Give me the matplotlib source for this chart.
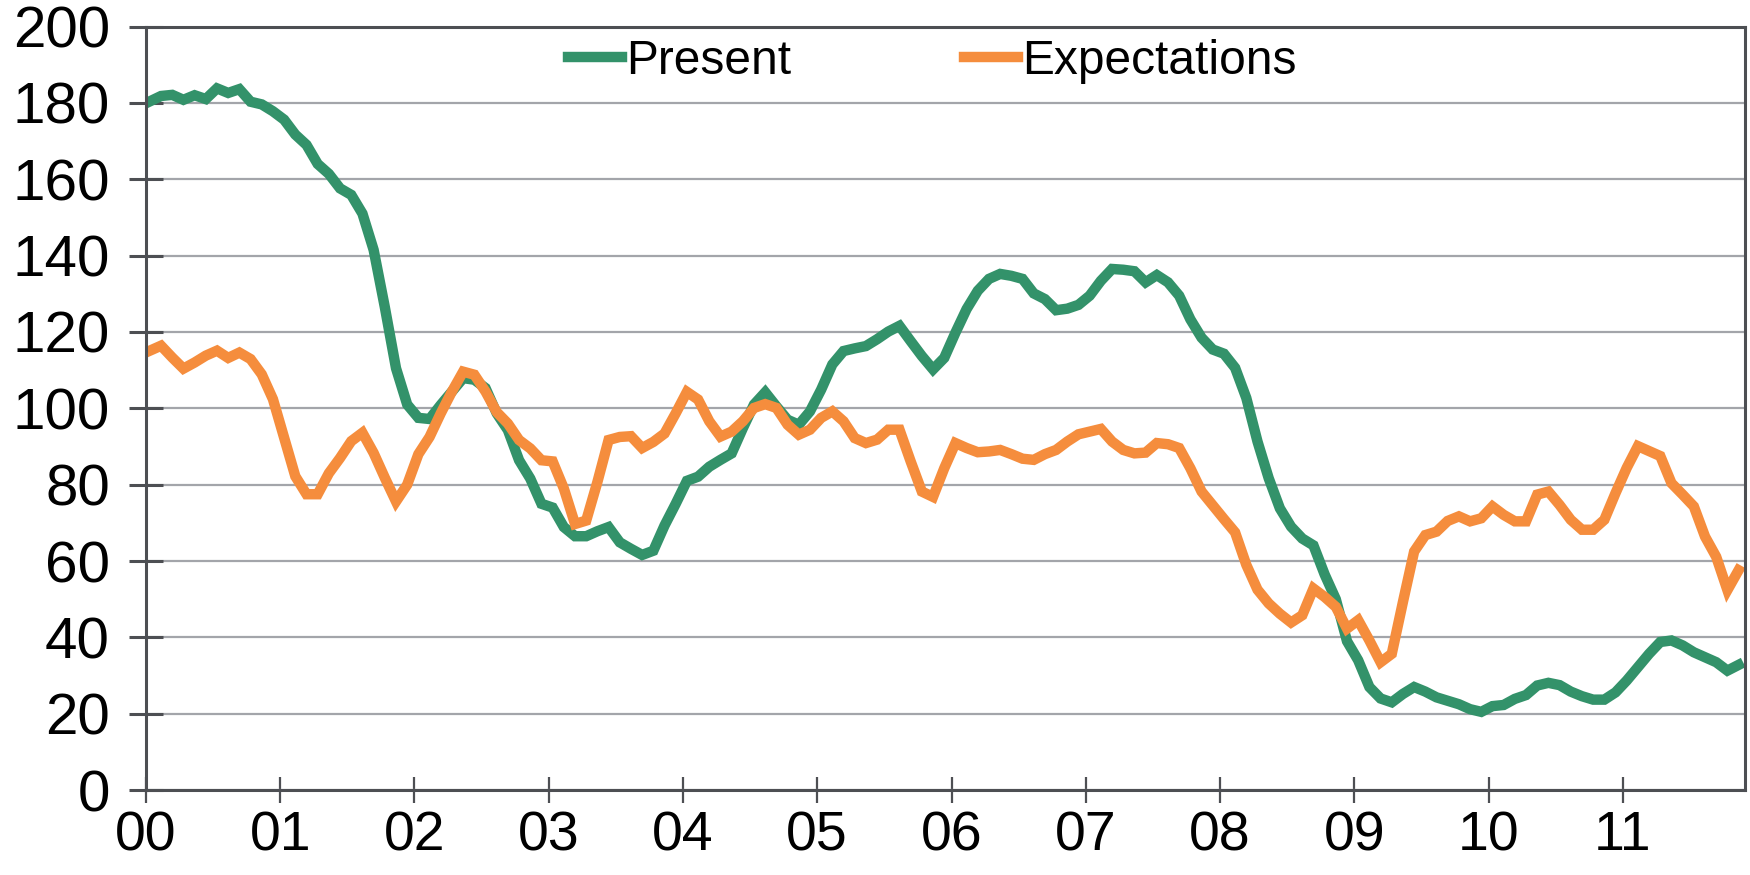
import numpy as np
import matplotlib
matplotlib.use("Agg")
from matplotlib import pyplot as plt

# monthly index values, Jan 2000 onwards
present = [180.4, 181.8, 182.1, 180.8, 182.0, 181.0, 183.8, 182.6, 183.6, 180.3, 179.6, 177.8,
           175.6, 171.7, 169.0, 164.0, 161.4, 157.6, 155.9, 151.0, 141.5, 126.5, 110.5, 101.0,
           97.5, 97.2, 100.9, 104.4, 107.9, 107.5, 105.3, 98.7, 94.3, 86.4, 81.6, 75.0,
           74.0, 68.9, 66.5, 66.5, 67.8, 68.9, 64.9, 63.2, 61.6, 62.7, 69.3, 75.0,
           81.0, 82.1, 84.7, 86.5, 88.2, 94.8, 101.0, 104.2, 100.5, 97.0, 95.7, 99.2,
           104.9, 111.5, 115.0, 115.7, 116.3, 118.1, 120.1, 121.6, 117.6, 113.7, 110.2, 113.2,
           119.8, 126.0, 130.8, 133.9, 135.2, 134.7, 133.9, 130.1, 128.6, 125.7, 126.1, 127.1,
           129.5, 133.4, 136.5, 136.3, 135.9, 133.0, 134.9, 133.0, 129.5, 123.3, 118.5, 115.4,
           114.3, 110.6, 102.7, 91.3, 81.7, 73.8, 69.0, 65.9, 64.1, 56.5, 50.0, 39.0,
           34.0, 27.0, 24.0, 23.0, 25.2, 27.0, 25.8, 24.3, 23.4, 22.5, 21.2, 20.5,
           22.0, 22.3, 23.9, 24.9, 27.4, 28.1, 27.5, 25.8, 24.6, 23.7, 23.7, 25.6,
           28.7, 32.2, 35.7, 38.8, 39.2, 37.9, 36.1, 34.8, 33.5, 31.3, 32.8]

expectations = [115.1, 116.4, 113.3, 110.4, 112.0, 113.8, 115.1, 113.2, 114.6, 112.9, 108.9, 102.4,
                92.3, 82.2, 77.5, 77.5, 83.0, 87.0, 91.4, 93.6, 88.3, 81.8, 75.6, 80.0,
                88.0, 92.5, 98.7, 104.4, 109.6, 108.8, 104.4, 99.0, 96.0, 91.7, 89.5, 86.4,
                86.1, 79.0, 69.7, 70.6, 80.7, 91.7, 92.5, 92.7, 89.6, 91.2, 93.4, 98.7,
                104.3, 102.3, 96.6, 92.6, 93.9, 96.6, 100.1, 101.1, 100.1, 95.7, 93.1, 94.4,
                97.5, 99.2, 96.6, 92.2, 90.9, 91.8, 94.4, 94.4, 86.1, 78.2, 76.8, 84.3,
                90.9, 89.6, 88.5, 88.7, 89.1, 88.0, 86.8, 86.5, 88.0, 89.1, 91.3, 93.2,
                93.9, 94.6, 91.3, 89.1, 88.2, 88.4, 90.9, 90.6, 89.6, 84.3, 78.2, 74.6,
                71.0, 67.5, 59.0, 52.5, 48.9, 46.2, 43.9, 45.8, 52.8, 50.6, 48.0, 42.3,
                44.5, 39.2, 33.5, 35.7, 49.3, 62.5, 66.8, 67.7, 70.5, 71.7, 70.4, 71.2,
                74.3, 72.1, 70.4, 70.4, 77.4, 78.2, 74.7, 70.8, 68.2, 68.2, 70.8, 77.8,
                84.4, 90.1, 88.8, 87.5, 80.4, 77.4, 74.3, 66.4, 61.1, 52.4, 57.6]

year_labels = ["00", "01", "02", "03", "04", "05", "06", "07", "08", "09", "10", "11"]
y_ticks = list(range(0, 201, 20))

plt.rcParams['font.family'] = ['Liberation Sans', 'DejaVu Sans']

green = "#33926A"
orange = "#F58D3D"
spine_col = "#4D4F53"
grid_col = "#A3A5AA"

fig = plt.figure(figsize=(17.5, 8.75), dpi=100)
ax = fig.add_axes([0.0834, 0.097, 0.9136, 0.8727])

x = np.arange(len(present)) + 0.35
ax.plot(x, present, color=green, lw=7.5, solid_joinstyle='miter', label="Present")
ax.plot(x, expectations, color=orange, lw=7.5, solid_joinstyle='miter', label="Expectations")

ax.set_xlim(0, 142.9)
ax.set_ylim(0, 200)
ax.set_xticks([12 * i for i in range(len(year_labels))])
ax.set_xticklabels(year_labels)
ax.set_yticks(y_ticks)

ax.yaxis.grid(True, color=grid_col, lw=1.6)
ax.set_axisbelow(True)
for s in ax.spines.values():
    s.set_color(spine_col)
    s.set_linewidth(2.2)

ax.tick_params(axis='y', direction='inout', length=24, width=2.2, color=spine_col,
               labelsize=42, pad=14)
ax.tick_params(axis='x', direction='inout', length=19, width=1.6, color=spine_col,
               labelsize=40, pad=5)

ax.legend(loc='upper center', bbox_to_anchor=(0.492, 1.04), ncol=2, frameon=False,
          fontsize=34.5, handlelength=1.12, handletextpad=0.1, columnspacing=3.6)

fig.savefig("out.png", dpi=100)
